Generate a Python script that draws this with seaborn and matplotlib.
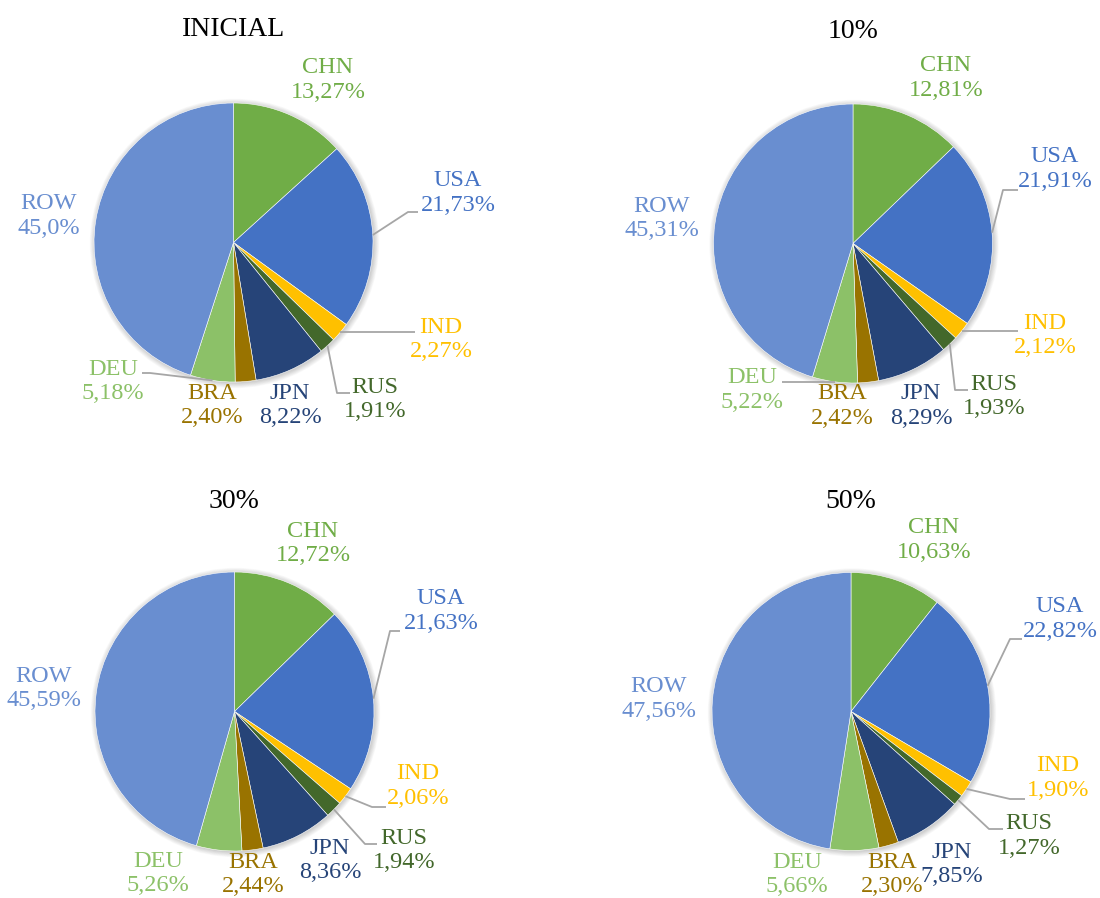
import numpy as np
import matplotlib
matplotlib.use("Agg")
import matplotlib.pyplot as plt
from matplotlib.patches import Circle
import seaborn as sns

# ---- data -------------------------------------------------------------
countries = ["CHN", "USA", "IND", "RUS", "JPN", "BRA", "DEU", "ROW"]
scenarios = ["INICIAL", "10%", "30%", "50%"]

# shares (%) as printed, decimal comma
share_inicial = ["13,27", "21,73", "2,27", "1,91", "8,22", "2,40", "5,18", "45,0"]
share_10 = ["12,81", "21,91", "2,12", "1,93", "8,29", "2,42", "5,22", "45,31"]
share_30 = ["12,72", "21,63", "2,06", "1,94", "8,36", "2,44", "5,26", "45,59"]
share_50 = ["10,63", "22,82", "1,90", "1,27", "7,85", "2,30", "5,66", "47,56"]
shares = [share_inicial, share_10, share_30, share_50]

colors = ["#70AD47", "#4472C4", "#FFC000", "#43682B",
          "#264478", "#997300", "#8CC168", "#698ED0"]

# ---- layout (pixel coordinates, y measured from the top) --------------
W, H = 1100, 898
pies = [  # centre x, centre y, radius, title y
    (233.5, 242.5, 139.5, 29),
    (853.0, 243.5, 139.5, 32),
    (234.5, 711.5, 139.5, 501),
    (851.0, 711.5, 139.0, 501),
]
label_pos = [
    [(328, 80), (458, 193), (441, 339.5), (375, 399.5), (290, 405.5), (212, 405.5), (113, 381.5), (49, 216)],
    [(946, 78), (1055, 169), (1045, 335.5), (994, 396.5), (921, 406), (842, 406), (752, 390), (662, 218.5)],
    [(313, 543.5), (441, 611), (418, 786), (404, 850.5), (330, 860.5), (253, 874.5), (158, 873.5), (44, 688.5)],
    [(934, 540), (1060, 619), (1058, 778), (1029, 836), (952, 864.5), (892, 874.5), (797, 874.5), (659, 699)],
]
# leader lines: slice index -> path points after the point on the rim
leaders = [
    {1: [(408, 212), (418, 212)], 2: [(415, None)], 3: [(337, 393), (350, 393)], 6: [(150, 373), (142, 373)]},
    {1: [(1003, 190), (1018, 190)], 2: [(1018, None)], 3: [(955, 390), (968, 390)], 6: [(782, None)]},
    {1: [(390, 631), (400, 631)], 2: [(372, 807), (386, 807)], 3: [(365, 844), (377, 844)]},
    {1: [(1010, 639), (1022, 639)], 2: [(1010, 799), (1025, 799)], 3: [(989, 829), (1003, 829)]},
]

sns.set_style("white")
plt.rcParams["font.family"] = ["Liberation Serif", "DejaVu Serif"]

fig = plt.figure(figsize=(W / 100, H / 100), dpi=100)
ax = fig.add_axes([0, 0, 1, 1])

for k, (cx, cy, r, ty) in enumerate(pies):
    vals = [float(s.replace(",", ".")) for s in shares[k]]

    # soft shadow around the disc
    for j in range(8):
        ax.add_patch(Circle((cx + 1.0, H - cy - 1.0), r + 0.7 * j + 0.3,
                            facecolor="#000000", edgecolor="none",
                            alpha=0.022, zorder=0))

    ax.pie(vals, colors=colors, startangle=90, counterclock=False,
           center=(cx, H - cy), radius=r, frame=False,
           wedgeprops=dict(edgecolor="white", linewidth=0.4, zorder=2))

    ax.text(cx, H - ty, scenarios[k], ha="center", va="center",
            fontsize=20, color="#000000")

    total = sum(vals)
    cum = np.cumsum([0] + vals)
    for i, name in enumerate(countries):
        lx, ly = label_pos[k][i]
        ax.text(lx, H - ly, f"{name}\n{shares[k][i]}%", ha="center",
                va="center", ma="center", fontsize=17.5, color=colors[i],
                linespacing=1.24, zorder=5)
        if i in leaders[k]:
            mid = (cum[i] + vals[i] / 2) / total * 2 * np.pi
            sx, sy = cx + r * np.sin(mid), cy - r * np.cos(mid)
            xs, ys = [sx], [sy]
            for px, py in leaders[k][i]:
                xs.append(px)
                ys.append(sy if py is None else py)
            ax.plot(xs, [H - y for y in ys], color="#A6A6A6", lw=1.3,
                    solid_capstyle="butt", zorder=4)

ax.set_xlim(0, W)
ax.set_ylim(0, H)
ax.set_aspect("equal")
ax.axis("off")

fig.savefig("out.png", dpi=100, facecolor="white")
